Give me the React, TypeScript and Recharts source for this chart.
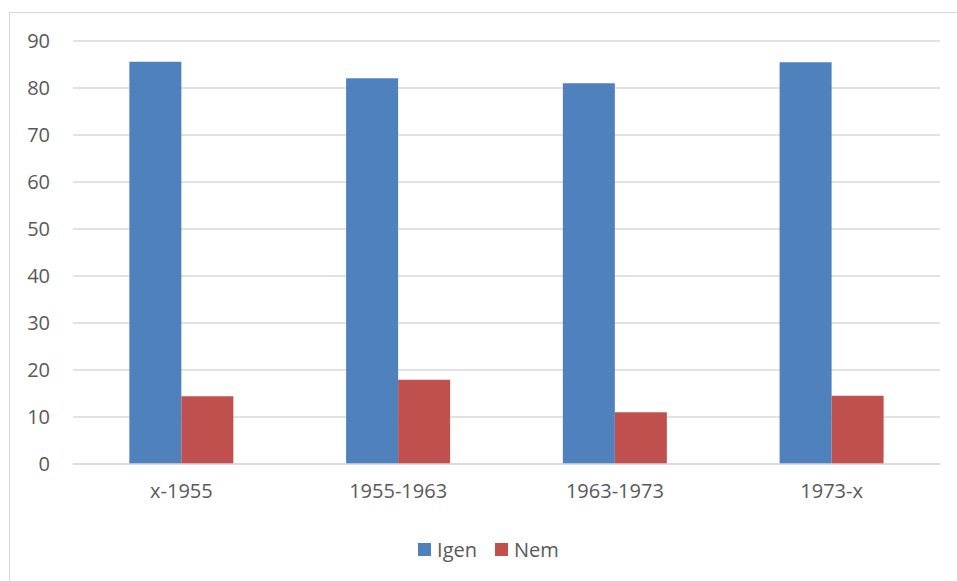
import React from "react";
import { BarChart, Bar, XAxis, YAxis, CartesianGrid, Legend } from "recharts";

const categories = ["x-1955", "1955-1963", "1963-1973", "1973-x"];
const igenValues = [85.6, 82.1, 81.0, 85.5];
const nemValues = [14.4, 17.9, 11.0, 14.5];
const yTicks = [0, 10, 20, 30, 40, 50, 60, 70, 80, 90];

const data = categories.map((c, i) => ({ name: c, Igen: igenValues[i], Nem: nemValues[i] }));

const FONT = "'Open Sans', 'Liberation Sans', sans-serif";
const TEXT = "#595959";

const LegendContent = () => (
  <div style={{ display: "flex", justifyContent: "center", alignItems: "center", fontFamily: FONT, fontSize: 20, color: TEXT, height: 24, paddingLeft: 20 }}>
    <span style={{ display: "inline-block", width: 13, height: 13, background: "#4F81BD", marginRight: 6 }} />
    <span style={{ marginRight: 18 }}>Igen</span>
    <span style={{ display: "inline-block", width: 13, height: 13, background: "#C0504D", marginRight: 6 }} />
    <span>Nem</span>
  </div>
);

export default function App() {
  return (
    <div style={{ position: "absolute", left: 0, top: 0, width: 957, height: 581, background: "#fff", overflow: "hidden" }}>
      <div style={{ position: "absolute", left: 9, top: 12, width: 970, height: 600, border: "1px solid #d9d9d9", boxSizing: "border-box" }} />
      <div style={{ position: "absolute", left: 0, top: 0 }}>
        <BarChart width={957} height={581} data={data} margin={{ top: 41, right: 17, bottom: 33, left: 0 }} barCategoryGap="26%" barGap={0}>
          <CartesianGrid vertical={false} stroke="#d9d9d9" strokeWidth={1.5} />
          <XAxis dataKey="name" height={60} tickLine={false} tickSize={0} tickMargin={20} axisLine={{ stroke: "#d9d9d9", strokeWidth: 1.5 }} tick={{ fill: TEXT, fontSize: 20, fontFamily: FONT }} />
          <YAxis width={73} domain={[0, 90]} ticks={yTicks} interval={0} tickLine={false} axisLine={false} tickSize={0} tickMargin={23} tick={{ fill: TEXT, fontSize: 20, fontFamily: FONT }} />
          <Legend verticalAlign="bottom" content={<LegendContent />} wrapperStyle={{ top: 537, left: 0, width: 957 }} />
          <Bar dataKey="Igen" fill="#4F81BD" isAnimationActive={false} />
          <Bar dataKey="Nem" fill="#C0504D" isAnimationActive={false} />
        </BarChart>
      </div>
    </div>
  );
}
